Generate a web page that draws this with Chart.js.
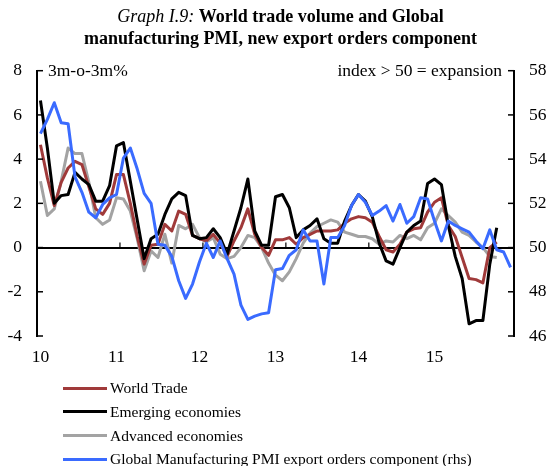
<!DOCTYPE html>
<html><head><meta charset="utf-8">
<script src="https://cdn.jsdelivr.net/npm/chart.js@4"></script>
<style>
html,body{margin:0;padding:0;background:#fff;}
body{width:549px;height:466px;position:relative;overflow:hidden;font-family:'Liberation Serif','Times New Roman',serif;color:#000;}
#c{position:absolute;left:0;top:0;}
.title{position:absolute;left:0;top:4.6px;width:549px;padding-left:12px;box-sizing:border-box;text-align:center;font-size:18px;line-height:22px;white-space:nowrap;}
.title i{font-weight:normal;}
.unit{position:absolute;top:60px;font-size:17.5px;line-height:20px;white-space:nowrap;}
#legend{position:absolute;left:0;top:0;width:549px;}
.lrow{position:absolute;left:0;height:23.7px;width:549px;}
.lsw{position:absolute;left:63px;top:10.6px;width:44px;height:3px;}
.ltx{position:absolute;left:110px;top:0;font-size:15.5px;line-height:23.7px;white-space:nowrap;}
</style></head><body>
<canvas id="c" width="549" height="466"></canvas>
<div class="title"><i>Graph I.9:</i> <b>World trade volume and Global</b><br><b>manufacturing PMI, new export orders component</b></div>
<div class="unit" style="left:48px;">3m-o-3m%</div>
<div class="unit" style="right:47px;">index &gt; 50 = expansion</div>
<div id="legend"></div>
<script>
// Monthly categories, Jan 2010 – Sep 2015
const months = [
 '2010-01','2010-02','2010-03','2010-04','2010-05','2010-06','2010-07','2010-08','2010-09','2010-10','2010-11','2010-12',
 '2011-01','2011-02','2011-03','2011-04','2011-05','2011-06','2011-07','2011-08','2011-09','2011-10','2011-11','2011-12',
 '2012-01','2012-02','2012-03','2012-04','2012-05','2012-06','2012-07','2012-08','2012-09','2012-10','2012-11','2012-12',
 '2013-01','2013-02','2013-03','2013-04','2013-05','2013-06','2013-07','2013-08','2013-09','2013-10','2013-11','2013-12',
 '2014-01','2014-02','2014-03','2014-04','2014-05','2014-06','2014-07','2014-08','2014-09','2014-10','2014-11','2014-12',
 '2015-01','2015-02','2015-03','2015-04','2015-05','2015-06','2015-07','2015-08','2015-09'
];
const yearLabels = ['10','11','12','13','14','15'];

// 3m-o-3m % (left axis)
const worldTrade = [
 4.65,3.15,1.9,2.95,3.6,3.9,3.75,2.75,1.75,1.5,2.0,3.3,
 3.3,2.0,0.5,-0.75,0.1,0.15,1.05,0.75,1.65,1.5,0.55,0.4,
 0.3,0.6,0.2,-0.4,0.3,0.9,1.75,0.6,0.0,-0.35,0.35,0.35,
 0.45,0.15,0.45,0.6,0.75,0.75,0.75,0.8,1.1,1.3,1.4,1.35,
 1.15,0.5,-0.1,-0.2,0.15,0.7,0.85,0.9,1.6,2.05,2.25,1.0,
 0.5,-0.45,-1.4,-1.45,-1.6,0.0,0.25
];
const emerging = [
 6.65,4.5,2.0,2.35,2.4,3.4,3.1,2.85,2.1,2.1,2.8,4.6,
 4.75,3.0,1.25,-0.5,0.4,0.6,1.5,2.2,2.5,2.35,0.55,0.4,
 0.45,0.85,0.45,-0.3,0.75,1.8,3.1,0.75,0.1,0.1,2.3,2.4,
 1.8,0.45,0.8,1.0,1.3,0.4,0.2,0.2,1.2,1.9,2.4,2.1,
 1.4,0.2,-0.6,-0.75,0.0,0.7,1.0,1.2,2.9,3.1,2.85,1.0,
 -0.4,-1.4,-3.45,-3.3,-3.3,-0.75,0.9
];
const advanced = [
 3.0,1.45,1.75,3.0,4.5,4.25,4.25,2.95,1.35,1.05,1.25,2.25,
 2.2,1.65,0.4,-1.05,-0.15,-0.45,0.6,-0.7,1.0,0.85,1.05,0.45,
 0.25,0.45,-0.3,-0.5,-0.4,0.0,0.55,0.45,0.0,-0.7,-1.25,-1.5,
 -1.1,-0.5,0.2,0.65,0.95,1.1,1.25,1.15,0.7,0.6,0.5,0.5,
 0.4,0.15,0.3,0.25,0.55,0.4,0.55,0.35,0.9,1.1,1.75,1.45,
 1.15,0.7,0.55,0.25,0.0,-0.4,-0.45
];
// PMI new export orders index (right axis)
const pmiExport = [
 55.15,55.8,56.55,55.65,55.6,53.2,52.5,51.6,51.35,51.95,52.25,52.4,
 54.05,54.5,53.55,52.45,52.0,50.15,50.1,49.6,48.5,47.7,48.35,49.35,
 50.2,49.55,50.3,49.5,48.8,47.4,46.75,46.9,47.0,47.05,49.0,49.05,
 49.65,49.9,50.8,50.3,50.3,48.35,50.45,50.45,51.0,51.9,52.4,52.05,
 51.45,51.65,51.9,51.2,51.95,51.1,51.4,52.25,52.2,51.2,50.3,51.2,
 51.0,50.85,50.7,50.3,49.95,50.8,49.9,49.8,49.1
];

const FONT = "'Liberation Serif','Times New Roman',serif";
const yearLabelAt = {0:0, 11:1, 23:2, 34:3, 46:4, 57:5};

const axisMarks = {
  id: 'axisMarks',
  afterDatasetsDraw(chart) {
    const {ctx, chartArea: a, scales} = chart;
    const seg = (x1, y1, x2, y2) => { ctx.beginPath(); ctx.moveTo(x1, y1); ctx.lineTo(x2, y2); ctx.stroke(); };
    ctx.save();
    ctx.strokeStyle = '#000';
    ctx.lineWidth = 1.5;
    scales.y.ticks.forEach((t, i) => { const p = scales.y.getPixelForTick(i); seg(a.left, p, a.left + 6, p); });
    scales.y2.ticks.forEach((t, i) => { const p = scales.y2.getPixelForTick(i); seg(a.right - 6, p, a.right, p); });
    const y0 = scales.y.getPixelForValue(0);
    ctx.lineWidth = 1.2;
    for (let k = 12; k < months.length; k += 12) {
      const px = (scales.x.getPixelForValue(k - 1) + scales.x.getPixelForValue(k)) / 2;
      seg(px, y0, px, y0 - 5);
    }
    ctx.restore();
  }
};

const chart = new Chart(document.getElementById('c'), {
  type: 'line',
  data: {
    labels: months,
    datasets: [
      {label: 'World Trade', data: worldTrade, borderColor: '#A03A3A', yAxisID: 'y', order: 2},
      {label: 'Emerging economies', data: emerging, borderColor: '#000000', yAxisID: 'y', order: 1},
      {label: 'Advanced economies', data: advanced, borderColor: '#A3A3A3', yAxisID: 'y', order: 3},
      {label: 'Global Manufacturing PMI export orders component (rhs)', data: pmiExport, borderColor: '#3A6BFF', yAxisID: 'y2', order: 0}
    ].map(d => Object.assign(d, {borderWidth: 3, pointRadius: 0, tension: 0, fill: false, borderJoinStyle: 'round'}))
  },
  options: {
    responsive: false,
    animation: false,
    layout: {padding: {top: 70.7, left: 0, right: 0, bottom: 0}},
    plugins: {legend: {display: false}, tooltip: {enabled: false}, title: {display: false}},
    scales: {
      x: {
        type: 'category', offset: true,
        grid: {display: false, drawTicks: false},
        border: {display: false},
        ticks: {
          autoSkip: false, maxRotation: 0, minRotation: 0, padding: 11,
          color: '#000', font: {family: FONT, size: 17.5},
          callback: (v, i) => (i in yearLabelAt ? yearLabels[yearLabelAt[i]] : '')
        },
        afterFit: s => { s.height = 130; }
      },
      y: {
        position: 'left', min: -4, max: 8,
        ticks: {stepSize: 2, padding: 15, color: '#000', font: {family: FONT, size: 17.5}},
        grid: {drawTicks: false, lineWidth: 2, color: c => (c.tick && c.tick.value === 0 ? '#000' : 'rgba(0,0,0,0)')},
        border: {color: '#000', width: 2},
        afterFit: s => { s.width = 37; }
      },
      y2: {
        position: 'right', min: 46, max: 58,
        ticks: {stepSize: 2, padding: 15, color: '#000', font: {family: FONT, size: 17.5}},
        grid: {drawOnChartArea: false, drawTicks: false},
        border: {color: '#000', width: 2},
        afterFit: s => { s.width = 35; }
      }
    }
  },
  plugins: [axisMarks]
});

// HTML legend from the chart's datasets
const leg = document.getElementById('legend');
chart.data.datasets.forEach((ds, k) => {
  const row = document.createElement('div');
  row.className = 'lrow';
  row.style.top = (376.2 + k * 23.7) + 'px';
  const sw = document.createElement('span');
  sw.className = 'lsw';
  sw.style.background = ds.borderColor;
  const tx = document.createElement('span');
  tx.className = 'ltx';
  tx.textContent = ds.label;
  row.appendChild(sw); row.appendChild(tx);
  leg.appendChild(row);
});
</script>
</body></html>
